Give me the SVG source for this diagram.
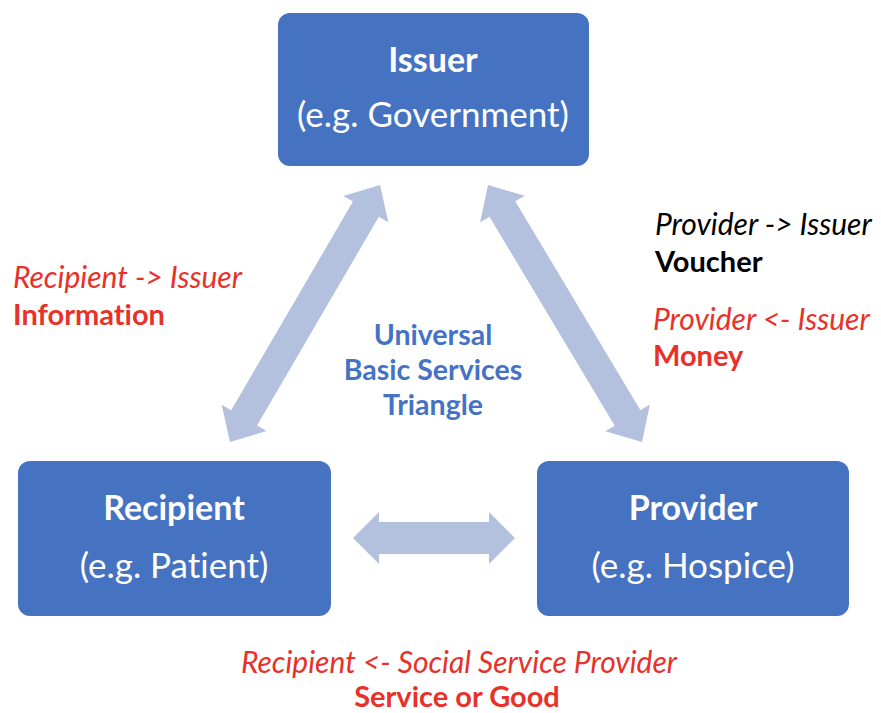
<svg xmlns="http://www.w3.org/2000/svg" width="881" height="713" viewBox="0 0 881 713">
  <style>
    text { font-variant-ligatures: none; font-feature-settings: "liga" 0, "clig" 0, "dlig" 0; }
    .box { fill: #4672C2; }
    .title { font-family: Lato, "Open Sans", sans-serif; font-weight: bold; font-size: 34px; fill: #ffffff; text-anchor: middle; }
    .sub { font-family: Lato, "Open Sans", sans-serif; font-size: 35px; fill: #ffffff; text-anchor: middle; }
    .flow { fill: #B3C1DF; }
    .lbl-i { font-family: Lato, "Open Sans", sans-serif; font-style: italic; font-size: 30px; }
    .lbl-b { font-family: Lato, "Open Sans", sans-serif; font-weight: bold; font-size: 29px; }
    .red { fill: #E8312A; }
    .black { fill: #000000; }
    .center { font-family: Lato, "Open Sans", sans-serif; font-weight: bold; font-size: 28.5px; fill: #4472C4; text-anchor: middle; }
  </style>

  <!-- connectors: broad two-headed block arrows -->
  <g id="connectors">
    <polygon class="flow" points="380,185 388.35,222.29 378.85,216.74 257.07,425.38 266.57,430.93 230,442 221.65,404.71 231.15,410.26 352.93,201.62 343.43,196.07"/>
    <polygon class="flow" points="488,185 524.69,195.66 515.26,201.31 640.48,410.27 649.91,404.62 642,442 605.31,431.34 614.74,425.69 489.52,216.73 480.09,222.38"/>
    <polygon class="flow" points="353,538 379,512 379,522 489,522 489,512 515,538 489,564 489,554 379,554 379,564"/>
  </g>

  <g id="issuer">
    <rect class="box" x="278" y="13" width="311" height="153" rx="12"/>
    <text class="title" x="433" y="72">Issuer</text>
    <text class="sub" x="433" y="127">(e.g. Government)</text>
  </g>

  <g id="recipient">
    <rect class="box" x="18" y="461" width="313" height="155" rx="12"/>
    <text class="title" x="174" y="520">Recipient</text>
    <text class="sub" x="174" y="578">(e.g. Patient)</text>
  </g>

  <g id="provider">
    <rect class="box" x="537" y="461" width="312" height="155" rx="12"/>
    <text class="title" x="693" y="520">Provider</text>
    <text class="sub" x="693" y="578">(e.g. Hospice)</text>
  </g>

  <g id="triangle-label">
    <text class="center" x="433" y="345">Universal</text>
    <text class="center" x="433" y="380">Basic Services</text>
    <text class="center" x="433" y="415">Triangle</text>
  </g>

  <g id="recipient-issuer-label">
    <text class="lbl-i red" x="13" y="288">Recipient -&gt; Issuer</text>
    <text class="lbl-b red" x="13" y="325">Information</text>
  </g>

  <g id="provider-issuer-label">
    <text class="lbl-i black" x="655" y="235">Provider -&gt; Issuer</text>
    <text class="lbl-b black" x="655" y="272">Voucher</text>
    <text class="lbl-i red" x="653" y="330">Provider &lt;- Issuer</text>
    <text class="lbl-b red" x="653" y="366">Money</text>
  </g>

  <g id="recipient-provider-label">
    <text class="lbl-i red" x="459" y="673" text-anchor="middle">Recipient &lt;- Social Service Provider</text>
    <text class="lbl-b red" x="457" y="707" text-anchor="middle">Service or Good</text>
  </g>
</svg>
